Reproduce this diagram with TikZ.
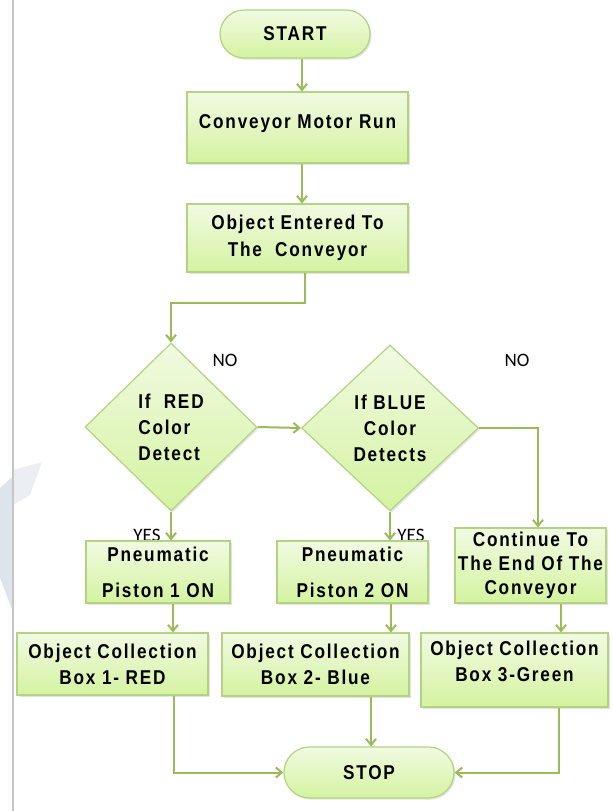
\documentclass[tikz,border=0pt]{standalone}
\usepackage{fontspec}
\usetikzlibrary{shapes.geometric,shapes.misc,arrows.meta,shadows}
\newfontfamily\boxfont[FakeStretch=0.86,LetterSpace=9]{Liberation Sans}
\newfontfamily\lblfont{Carlito}
\definecolor{arrowc}{RGB}{155,187,89}
\definecolor{boxline}{RGB}{178,212,128}
\definecolor{boxtop}{RGB}{241,250,226}
\definecolor{boxbot}{RGB}{212,243,160}
\definecolor{wmark}{RGB}{222,228,236}
\tikzset{
  base/.style={draw=boxline, line width=0.6pt, top color=boxtop, bottom color=boxbot,
    font=\boxfont\bfseries\fontsize{10}{13.5}\selectfont, align=center, inner sep=0pt,
    drop shadow={opacity=0.22, shadow xshift=0.8pt, shadow yshift=-0.8pt}},
  proc/.style={base, rectangle},
  term/.style={base, rounded rectangle, minimum width=75pt, minimum height=24pt},
  dec/.style={base, diamond},
  arr/.style={draw=arrowc, line width=1pt, -{Straight Barb[length=3pt,width=5pt]}},
  yesno/.style={font=\lblfont\fontsize{9.5}{11}\selectfont, inner sep=0pt}
}
\begin{document}
\begin{tikzpicture}[x=0.5pt,y=-0.5pt]
		\useasboundingbox (0,0) rectangle (613,811);
		% Page edge and watermark
		\fill[wmark] (0,488) -- (13,476) -- (13,612) -- (0,578) -- cycle;
		\fill[wmark!60] (13,470) -- (42,462) -- (30,495) -- (13,505) -- cycle;
		\draw[gray!45, line width=0.6pt] (13,0) -- (13,811);

		% Start and first steps
		\node[term] (start) at (295,34) {START};
		\node[proc, minimum width=110.5pt, minimum height=35.5pt] (run) at (297.5,127.5) {Conveyor Motor Run\\[-8pt]\mbox{}};
		\node[proc, minimum width=110.5pt, minimum height=34pt] (enter) at (297.5,238) {Object Entered To\\The\ \ Conveyor};

		% Decisions
		\node[dec, minimum width=86pt, minimum height=84pt, align=left] (red) at (171,427) {If\ \ RED\\[-0.5pt]Color\\[-0.5pt]Detect};
		\node[dec, minimum width=88.5pt, minimum height=83pt] (blue) at (390,428) {If BLUE\\[-0.5pt]Color\\[-0.5pt]Detects};
		\node[yesno] (no1) at (225,360) {NO};
		\node[yesno] (no2) at (517,360) {NO};
		\node[yesno] (yes1) at (147,535) {YES};
		\node[yesno] (yes2) at (411,535) {YES};

		% Actions
		\node[proc, minimum width=72pt, minimum height=31pt] (pist1) at (158,572) {Pneumatic\\[4.5pt]Piston 1 ON};
		\node[proc, minimum width=75.5pt, minimum height=31pt] (pist2) at (352.5,572) {Pneumatic\\[4.5pt]Piston 2 ON};
		\node[proc, minimum width=75.5pt, minimum height=37.5pt] (cont) at (530.5,565.5) {Continue To\\[-1.5pt]The End Of The\\[-1.5pt]Conveyor};

		% Collection boxes
		\node[proc, minimum width=95.5pt, minimum height=31pt] (coll1) at (112.5,664) {Object Collection\\[-0.5pt]Box 1- RED};
		\node[proc, minimum width=93.5pt, minimum height=31.5pt] (coll2) at (315.5,664.5) {Object Collection\\[-0.5pt]Box 2- Blue};
		\node[proc, minimum width=93.5pt, minimum height=37pt] (coll3) at (514.5,670) {Object Collection\\[-0.5pt]Box 3-Green\\[-5pt]\mbox{}};

		% Stop
		\node[term, minimum width=85pt, minimum height=25.5pt] (stop) at (369,772.5) {STOP};

		% Connectors
		\draw[arr] ([xshift=3.5pt]start.south) -- ([xshift=3.5pt]start.south |- run.north);
		\draw[arr] ([xshift=2.25pt]run.south) -- ([xshift=2.25pt]run.south |- enter.north);
		\draw[arr] ([xshift=3.75pt]enter.south) -- ++(0,-15pt) -| (red.north);
		\draw[arr] (red.east) -- (blue.west);
		\draw[arr] (red.south) -- (red.south |- pist1.north);
		\draw[arr] (blue.south) -- (blue.south |- pist2.north);
		\draw[arr] (blue.east) -| ([xshift=3.75pt]cont.north);
		\draw[arr] ([xshift=7.5pt]pist1.south) -- ([xshift=7.5pt]pist1.south |- coll1.north);
		\draw[arr] ([xshift=19.25pt]pist2.south) -- ([xshift=19.25pt]pist2.south |- coll2.north);
		\draw[arr] ([xshift=15.25pt]cont.south) -- ([xshift=15.25pt]cont.south |- coll3.north);
		\draw[arr] ([xshift=30.75pt]coll1.south) |- (stop.west);
		\draw[arr] ([xshift=27.75pt]coll2.south) -- ([xshift=27.75pt]coll2.south |- stop.north);
		\draw[arr] ([xshift=22.25pt]coll3.south) |- (stop.east);
	\end{tikzpicture}
\end{document}
